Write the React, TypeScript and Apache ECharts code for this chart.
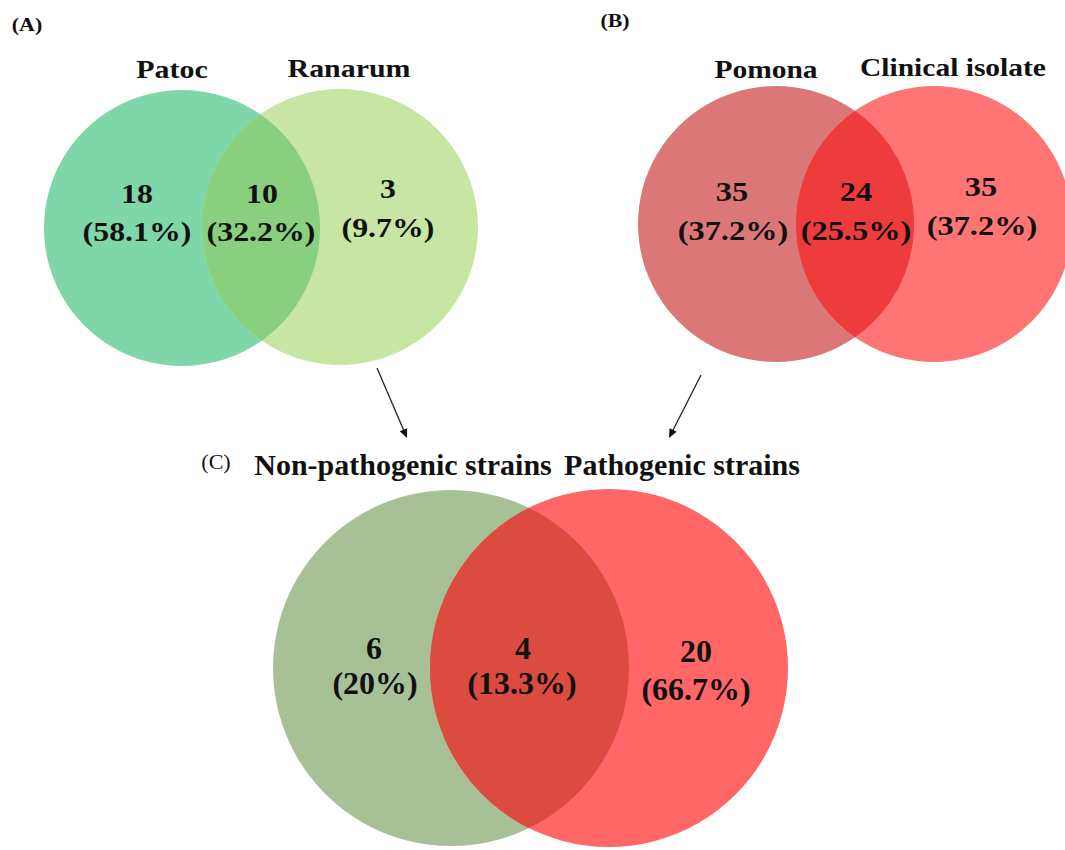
import React, { useEffect, useRef } from "react";
import * as echarts from "echarts";

// ---- Data ----
const setsA = ["Patoc", "Ranarum"];
const countsA = [18, 10, 3];
const percentsA = ["58.1%", "32.2%", "9.7%"];

const setsB = ["Pomona", "Clinical isolate"];
const countsB = [35, 24, 35];
const percentsB = ["37.2%", "25.5%", "37.2%"];

const setsC = ["Non-pathogenic strains", "Pathogenic strains"];
const countsC = [6, 4, 20];
const percentsC = ["20%", "13.3%", "66.7%"];

const panelLabels = ["(A)", "(B)", "(C)"];

// ---- Layout / style ----
const FONT = "'Liberation Serif', 'Times New Roman', serif";
const INK = "#111111";

type Circle = { cx: number; cy: number; r: number };

const layoutA = {
  c1: { cx: 182, cy: 228, r: 138 },
  c2: { cx: 340, cy: 227, r: 138 },
  colors: ["#7fd6a9", "#c8e6a3", "#88cf7e"],
  titlePos: [[172, 69], [349, 68]],
  countPos: [[137, 194], [262, 194], [388, 189]],
  pctPos: [[137, 232], [261, 232], [388, 228]],
  titleSize: 26, titleScale: 1.15,
  numSize: 27, numScale: 1.18,
};
const layoutB = {
  c1: { cx: 776, cy: 224, r: 138 },
  c2: { cx: 934, cy: 224, r: 138 },
  colors: ["#dc7777", "#ff7474", "#ee3b3b"],
  titlePos: [[766, 70], [953, 68]],
  countPos: [[732, 191], [856, 191], [981, 186]],
  pctPos: [[733, 230], [856, 230], [982, 225]],
  titleSize: 25, titleScale: 1.18,
  numSize: 27, numScale: 1.2,
};
const layoutC = {
  c1: { cx: 451, cy: 668, r: 178 },
  c2: { cx: 609, cy: 668, r: 179 },
  colors: ["#a8c096", "#ff6767", "#db4b40"],
  titlePos: [[403, 464], [682, 464]],
  countPos: [[374, 649], [523, 649], [696, 652]],
  pctPos: [[375, 684], [522, 684], [696, 690]],
  titleSize: 30, titleScale: 1.0,
  numSize: 31, numScale: 1.03,
};

function lensPoints(a: Circle, b: Circle, n = 80): number[][] {
  const dx = b.cx - a.cx, dy = b.cy - a.cy;
  const d = Math.sqrt(dx * dx + dy * dy);
  const along = (a.r * a.r - b.r * b.r + d * d) / (2 * d);
  const th12 = Math.atan2(dy, dx);
  const th21 = th12 + Math.PI;
  const al1 = Math.acos(Math.min(1, along / a.r));
  const al2 = Math.acos(Math.min(1, (d - along) / b.r));
  const pts: number[][] = [];
  for (let i = 0; i <= n; i++) {
    const t = -al1 + (2 * al1 * i) / n;
    pts.push([a.cx + a.r * Math.cos(th12 + t), a.cy + a.r * Math.sin(th12 + t)]);
  }
  for (let i = 0; i <= n; i++) {
    const t = -al2 + (2 * al2 * i) / n;
    pts.push([b.cx + b.r * Math.cos(th21 + t), b.cy + b.r * Math.sin(th21 + t)]);
  }
  return pts;
}

function txt(text: string, x: number, y: number, size: number, weight: string, sx: number) {
  return {
    type: "text",
    x,
    y,
    scaleX: sx,
    z: 10,
    style: {
      text,
      fill: INK,
      font: `${weight} ${size}px ${FONT}`,
      align: "center",
      verticalAlign: "middle",
      textAlign: "center",
      textVerticalAlign: "middle",
    },
  };
}

function venn(layout: any, sets: string[], counts: number[], pcts: string[]) {
  const els: any[] = [];
  els.push({ type: "circle", shape: layout.c1, style: { fill: layout.colors[0] }, z: 1 });
  els.push({ type: "circle", shape: layout.c2, style: { fill: layout.colors[1] }, z: 1 });
  els.push({
    type: "polygon",
    shape: { points: lensPoints(layout.c1, layout.c2) },
    style: { fill: layout.colors[2] },
    z: 2,
  });
  sets.forEach((s, i) => {
    els.push(txt(s, layout.titlePos[i][0], layout.titlePos[i][1], layout.titleSize, "bold", layout.titleScale));
  });
  counts.forEach((c, i) => {
    els.push(txt(String(c), layout.countPos[i][0], layout.countPos[i][1], layout.numSize, "bold", layout.numScale));
    els.push(txt("(" + pcts[i] + ")", layout.pctPos[i][0], layout.pctPos[i][1], layout.numSize, "bold", layout.numScale));
  });
  return els;
}

function arrow(x1: number, y1: number, x2: number, y2: number) {
  const dx = x2 - x1, dy = y2 - y1;
  const L = Math.sqrt(dx * dx + dy * dy);
  const ux = dx / L, uy = dy / L;
  const nx = -uy, ny = ux;
  const hl = 9, hw = 4;
  return [
    {
      type: "line",
      shape: { x1, y1, x2: x2 - ux * 4, y2: y2 - uy * 4 },
      style: { stroke: "#222", lineWidth: 1.3 },
      z: 5,
    },
    {
      type: "polygon",
      shape: {
        points: [
          [x2, y2],
          [x2 - ux * hl + nx * hw, y2 - uy * hl + ny * hw],
          [x2 - ux * hl - nx * hw, y2 - uy * hl - ny * hw],
        ],
      },
      style: { fill: "#111" },
      z: 5,
    },
  ];
}

export default function App() {
  const ref = useRef<HTMLDivElement>(null);
  useEffect(() => {
    if (!ref.current) return;
    const chart = echarts.init(ref.current, undefined, { renderer: "svg" });
    const elements: any[] = [
      ...venn(layoutA, setsA, countsA, percentsA),
      ...venn(layoutB, setsB, countsB, percentsB),
      ...venn(layoutC, setsC, countsC, percentsC),
      txt(panelLabels[0], 27, 25, 19, "bold", 1.15),
      txt(panelLabels[1], 615, 21, 19, "bold", 1.15),
      txt(panelLabels[2], 216, 462, 21, "normal", 1.05),
      ...arrow(377, 368, 407, 438),
      ...arrow(701, 375, 669, 438),
    ];
    chart.setOption({
      animation: false,
      backgroundColor: "#ffffff",
      graphic: { elements },
    });
    return () => chart.dispose();
  }, []);
  return (
    <div
      ref={ref}
      style={{ position: "absolute", left: 0, top: 0, width: 1065, height: 850 }}
    />
  );
}
